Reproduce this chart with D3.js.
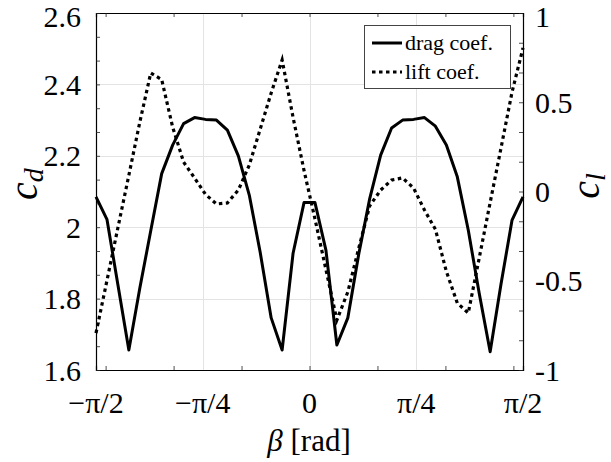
<!DOCTYPE html>
<html>
<head>
<meta charset="utf-8">
<script src="https://cdn.jsdelivr.net/npm/d3@7"></script>
<style>
  html, body { margin: 0; padding: 0; background: #ffffff; }
  svg { display: block; }
  svg text { font-family: "Liberation Serif", "DejaVu Serif", serif !important; }
</style>
</head>
<body>
<script>
// ---- data (beta in degrees, 40 samples from -90 to 90) ----
const beta = [-90, -85.385, -80.769, -76.154, -71.538, -66.923, -62.308, -57.692, -53.077, -48.462,
  -43.846, -39.231, -34.615, -30, -25.385, -20.769, -16.154, -11.538, -6.923, -2.308,
  2.308, 6.923, 11.538, 16.154, 20.769, 25.385, 30, 34.615, 39.231, 43.846,
  48.462, 53.077, 57.692, 62.308, 66.923, 71.538, 76.154, 80.769, 85.385, 90];

const dragCoef = [2.085, 2.022, 1.839, 1.656, 1.829, 1.99, 2.15, 2.23, 2.29, 2.307,
  2.302, 2.30, 2.272, 2.20, 2.09, 1.929, 1.746, 1.656, 1.927, 2.069,
  2.069, 1.936, 1.670, 1.746, 1.925, 2.08, 2.202, 2.278, 2.30, 2.302,
  2.307, 2.283, 2.230, 2.141, 1.992, 1.815, 1.651, 1.842, 2.02, 2.085];

const liftCoef = [-0.793, -0.499, -0.203, 0.091, 0.388, 0.664, 0.627, 0.361, 0.165, 0.076,
  -0.016, -0.07, -0.064, 0.008, 0.148, 0.35, 0.552, 0.737, 0.415, 0.118,
  -0.154, -0.437, -0.72, -0.563, -0.317, -0.08, 0.008, 0.064, 0.076, 0.02,
  -0.104, -0.212, -0.448, -0.625, -0.681, -0.373, -0.062, 0.246, 0.557, 0.804];

// x tick labels (at multiples of pi/4, in degrees) and x tick marks (every 0.5 rad, in degrees)
const xLabelValues = [-90, -45, 0, 45, 90];
const xLabels = ["\u2212\u03c0/2", "\u2212\u03c0/4", "0", "\u03c0/4", "\u03c0/2"];
const xTickMarks = [-85.944, -57.296, -28.648, 0, 28.648, 57.296, 85.944];

// left axis (c_d)
const leftLabelValues = [1.6, 1.8, 2.0, 2.2, 2.4, 2.6];
const leftLabels = ["1.6", "1.8", "2", "2.2", "2.4", "2.6"];
const leftTickMarks = [1.6, 1.6667, 1.7333, 1.8, 1.8667, 1.9333, 2.0, 2.0667, 2.1333, 2.2,
  2.2667, 2.3333, 2.4, 2.4667, 2.5333, 2.6];

// right axis (c_l)
const rightLabelValues = [-1, -0.5, 0, 0.5, 1];
const rightLabels = ["-1", "-0.5", "0", "0.5", "1"];
const rightTickMarks = [-1, -0.8333, -0.6667, -0.5, -0.3333, -0.1667, 0, 0.1667, 0.3333, 0.5, 0.6667, 0.8333, 1];

const seriesNames = ["drag coef.", "lift coef."];

// ---- layout ----
const W = 611, H = 462;
const L = 96, R = 523, T = 13, B = 370;

const svg = d3.select("body").append("svg").attr("width", W).attr("height", H)
  .style("font-family", "Liberation Serif, DejaVu Serif, serif");

const x = d3.scaleLinear().domain([-90, 90]).range([L, R]);
const yL = d3.scaleLinear().domain([1.6, 2.6]).range([B, T]);
const yR = d3.scaleLinear().domain([-1, 1]).range([B, T]);

// grid
const grid = svg.append("g").attr("stroke", "#e3e3e3").attr("stroke-width", 1);
grid.selectAll("line.v").data(xLabelValues).join("line")
  .attr("x1", d => Math.round(x(d)) + 0.5).attr("x2", d => Math.round(x(d)) + 0.5)
  .attr("y1", T).attr("y2", B);
grid.selectAll("line.h").data(leftLabelValues).join("line")
  .attr("y1", d => Math.round(yL(d)) + 0.5).attr("y2", d => Math.round(yL(d)) + 0.5)
  .attr("x1", L).attr("x2", R);

// axes via d3 axis generators (inward ticks)
const tickLen = 4;
const gB = svg.append("g").attr("transform", `translate(0,${B})`)
  .call(d3.axisBottom(x).tickValues(xTickMarks).tickSize(-tickLen).tickFormat(""));
const gT = svg.append("g").attr("transform", `translate(0,${T})`)
  .call(d3.axisTop(x).tickValues(xTickMarks).tickSize(-tickLen).tickFormat(""));
const gL = svg.append("g").attr("transform", `translate(${L},0)`)
  .call(d3.axisLeft(yL).tickValues(leftTickMarks).tickSize(-tickLen).tickFormat(""));
const gR = svg.append("g").attr("transform", `translate(${R},0)`)
  .call(d3.axisRight(yR).tickValues(rightTickMarks).tickSize(-tickLen).tickFormat(""));
[gB, gT, gL, gR].forEach(g => {
  g.attr("font-family", null);
  g.select(".domain").attr("stroke", "#000").attr("stroke-width", 1.2);
  g.selectAll(".tick line").attr("stroke", "#222").attr("stroke-width", 0.8);
});

// tick labels
const TICK_FS = 30;
svg.append("g").selectAll("text").data(xLabelValues).join("text")
  .attr("x", d => x(d)).attr("y", 413)
  .attr("text-anchor", "middle").attr("font-size", TICK_FS)
  .text((d, i) => xLabels[i]);

svg.append("g").selectAll("text").data(leftLabelValues).join("text")
  .attr("x", 81).attr("y", d => Math.max(yL(d), 16.5))
  .attr("dy", "0.35em")
  .attr("text-anchor", "end").attr("font-size", TICK_FS)
  .text((d, i) => leftLabels[i]);

svg.append("g").selectAll("text").data(rightLabelValues).join("text")
  .attr("x", 535).attr("y", d => Math.max(yR(d), 16.5))
  .attr("dy", "0.35em")
  .attr("text-anchor", "start").attr("font-size", TICK_FS)
  .text((d, i) => rightLabels[i]);

// axis labels
const xl = svg.append("text").attr("x", 309).attr("y", 451)
  .attr("text-anchor", "middle").attr("font-size", 31);
xl.append("tspan").attr("font-style", "italic").text("\u03b2");
xl.append("tspan").text(" [rad]");

function yLabel(xpos, ypos, sub) {
  const t = svg.append("text")
    .attr("transform", `translate(${xpos},${ypos}) rotate(-90)`)
    .attr("text-anchor", "middle").attr("font-size", 40).attr("font-style", "italic");
  t.append("tspan").text("c");
  t.append("tspan").attr("font-size", 28).attr("dy", 6).text(sub);
}
yLabel(37, 184, "d");
yLabel(599, 186, "l");

// lines
const lineDrag = d3.line().x((d, i) => x(beta[i])).y(d => yL(d));
const lineLift = d3.line().x((d, i) => x(beta[i])).y(d => yR(d));

svg.append("path").datum(dragCoef).attr("d", lineDrag)
  .attr("fill", "none").attr("stroke", "#000").attr("stroke-width", 3)
  .attr("stroke-linejoin", "round");
svg.append("path").datum(liftCoef).attr("d", lineLift)
  .attr("fill", "none").attr("stroke", "#000").attr("stroke-width", 3.2)
  .attr("stroke-dasharray", "3.5,3.5");

// legend
const lg = svg.append("g");
lg.append("rect").attr("x", 364.5).attr("y", 25.5).attr("width", 146).attr("height", 63)
  .attr("fill", "#fff").attr("stroke", "#444").attr("stroke-width", 1);
const legendY = [43, 72];
seriesNames.forEach((name, i) => {
  lg.append("line").attr("x1", 372).attr("x2", 402).attr("y1", legendY[i]).attr("y2", legendY[i])
    .attr("stroke", "#000").attr("stroke-width", 3)
    .attr("stroke-dasharray", i === 1 ? "3.5,3.5" : null);
  lg.append("text").attr("x", 405).attr("y", legendY[i]).attr("dy", "0.32em")
    .attr("font-size", 22).text(name);
});
</script>
</body>
</html>
